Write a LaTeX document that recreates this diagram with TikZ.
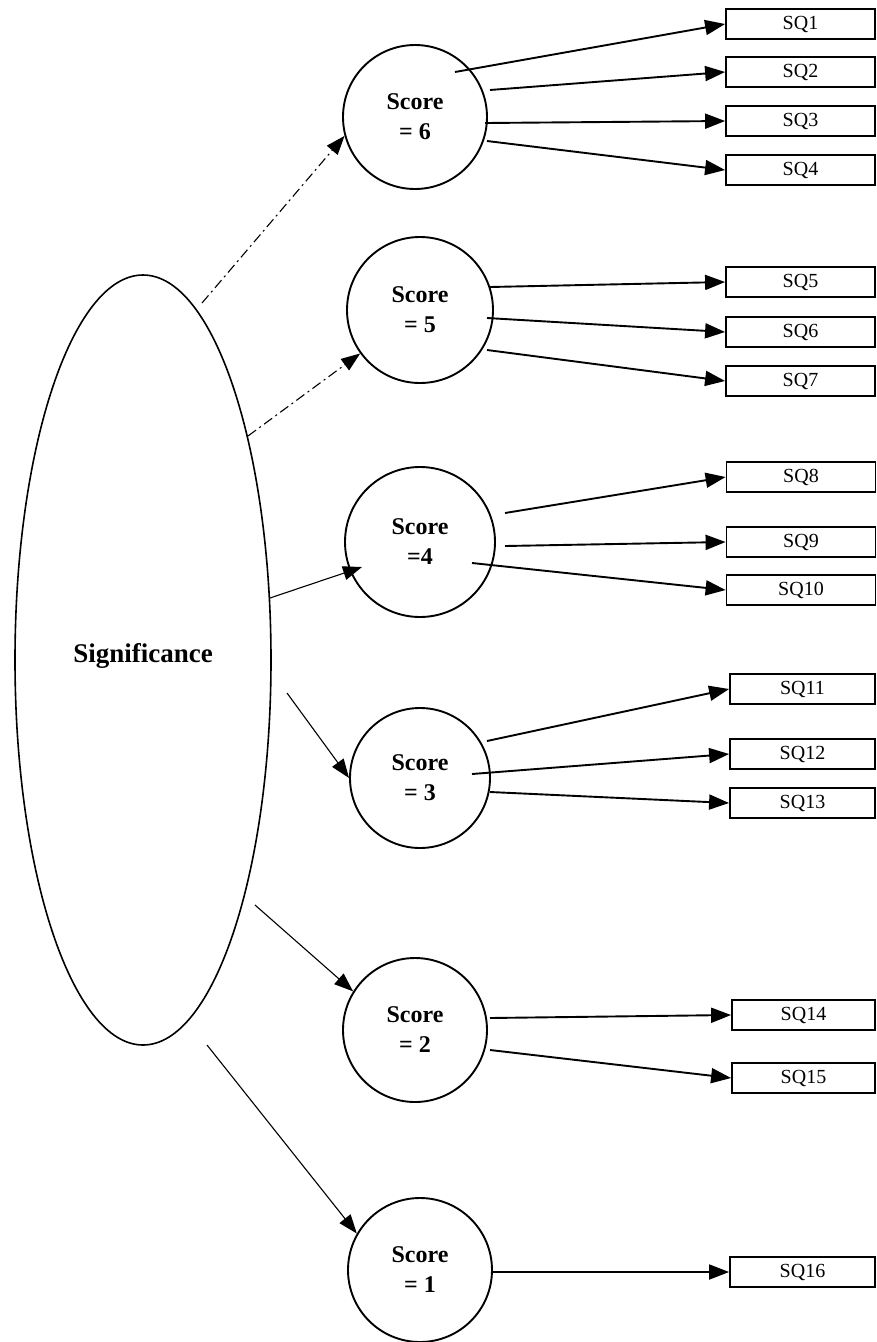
\documentclass[tikz,border=0pt]{standalone}
\usepackage{fontspec}
\setmainfont{Liberation Serif}
\usetikzlibrary{arrows.meta,shapes.geometric,calc}
\begin{document}
\begin{tikzpicture}[x=1pt,y=-1pt,
 scorenode/.style={circle,draw,line width=1.9pt,minimum size=144pt,inner sep=0pt,align=center,font=\fontsize{24}{30}\selectfont\bfseries},
 sqbox/.style={rectangle,draw,line width=1.8pt,minimum width=149pt,minimum height=30pt,inner sep=0pt,font=\fontsize{20}{22}\selectfont},
 sqarrow/.style={line width=1.9pt,-{Triangle[length=20pt,width=15pt]}},
 sigarrow/.style={line width=1.1pt,-{Triangle[length=19pt,width=14pt]}},
 faint/.style={dash pattern=on 10pt off 4pt on 2pt off 4pt},
]
\useasboundingbox (0,0) rectangle (877,1342);
% central ellipse
\node[ellipse,draw,line width=1.6pt,minimum width=256pt,minimum height=770pt,inner sep=0pt,
      font=\fontsize{27}{32}\selectfont\bfseries] (sig) at (143,660) {\raisebox{15pt}{Significance}};
% score circles
\node[scorenode] (s6) at (415,117) {Score\\= 6};
\node[scorenode,minimum size=146pt] (s5) at (420,310) {Score\\= 5};
\node[scorenode,minimum size=150pt] (s4) at (420,542) {Score\\=4};
\node[scorenode,minimum size=140pt] (s3) at (420,778) {Score\\= 3};
\node[scorenode] (s2) at (415,1030) {Score\\= 2};
\node[scorenode] (s1) at (420,1270) {Score\\= 1};
% SQ boxes
\node[sqbox] (q1) at (800.5,24) {SQ1};
\node[sqbox] (q2) at (800.5,72) {SQ2};
\node[sqbox] (q3) at (800.5,121) {SQ3};
\node[sqbox] (q4) at (800.5,170) {SQ4};
\node[sqbox] (q5) at (800.5,282) {SQ5};
\node[sqbox] (q6) at (800.5,332) {SQ6};
\node[sqbox] (q7) at (800.5,381) {SQ7};
\node[sqbox] (q8) at (801,477) {SQ8};
\node[sqbox] (q9) at (801,542) {SQ9};
\node[sqbox] (q10) at (801,590) {SQ10};
\node[sqbox,minimum width=145pt] (q11) at (802.5,689) {SQ11};
\node[sqbox,minimum width=145pt] (q12) at (802.5,754) {SQ12};
\node[sqbox,minimum width=145pt] (q13) at (802.5,803) {SQ13};
\node[sqbox,minimum width=143pt] (q14) at (803.5,1015) {SQ14};
\node[sqbox,minimum width=143pt] (q15) at (803.5,1078) {SQ15};
\node[sqbox,minimum width=145pt] (q16) at (802.5,1272) {SQ16};
% circle to box arrows
\draw[sqarrow] ($(s6)+(40,-45)$) -- (q1.west);
\draw[sqarrow] ($(s6)+(75,-27)$) -- (q2.west);
\draw[sqarrow] ($(s6)+(70,6)$) -- (q3.west);
\draw[sqarrow] ($(s6)+(72,24)$) -- (q4.west);
\draw[sqarrow] ($(s5)+(70,-23)$) -- (q5.west);
\draw[sqarrow] ($(s5)+(67,8)$) -- (q6.west);
\draw[sqarrow] ($(s5)+(67,40)$) -- (q7.west);
\draw[sqarrow] ($(s4)+(85,-29)$) -- (q8.west);
\draw[sqarrow] ($(s4)+(85,4)$) -- (q9.west);
\draw[sqarrow] ($(s4)+(52,21)$) -- (q10.west);
\draw[sqarrow] ($(s3)+(67,-37)$) -- (q11.west);
\draw[sqarrow] ($(s3)+(52,-4)$) -- (q12.west);
\draw[sqarrow] ($(s3)+(70,14)$) -- (q13.west);
\draw[sqarrow] ($(s2)+(75,-12)$) -- (q14.west);
\draw[sqarrow] ($(s2)+(75,20)$) -- (q15.west);
\draw[sqarrow] ($(s1)+(73,2)$) -- (q16.west);
% ellipse to circle arrows
\coordinate (t4) at ($(s4)+(-58,25)$);
\draw[sigarrow,faint] ($(sig)+(59,-357)$) -- (s6.195);
\draw[sigarrow,faint] ($(sig)+(105,-224)$) -- (s5.216);
\draw[sigarrow] ($(sig)+(127,-62)$) -- (t4);
\draw[sigarrow] ($(sig)+(144,33)$) -- (s3.west);
\draw[sigarrow] ($(sig)+(112,245)$) -- (s2.148);
\draw[sigarrow] ($(sig)+(64,385)$) -- (s1.150);
\end{tikzpicture}
\end{document}
